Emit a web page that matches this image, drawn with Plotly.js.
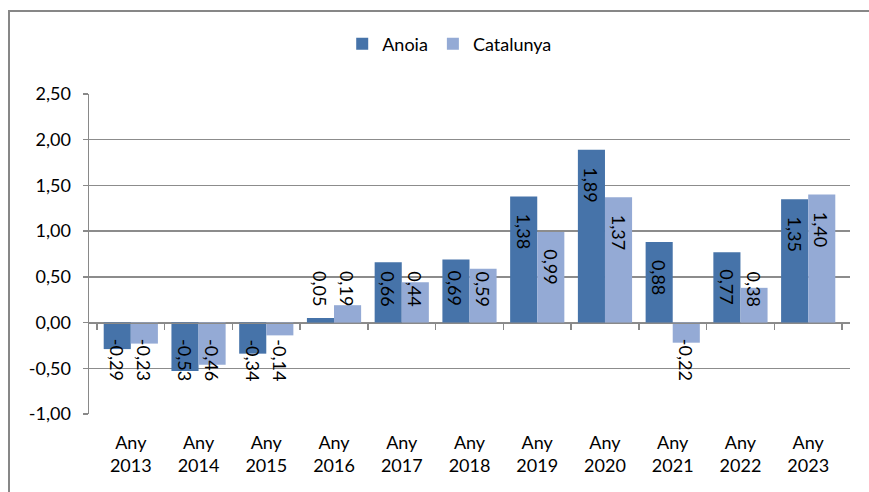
<!DOCTYPE html>
<html>
<head>
<meta charset="utf-8">
<script src="https://cdn.plot.ly/plotly-3.0.1.min.js"></script>
<style>
html,body{margin:0;padding:0;background:#fff;overflow:hidden;width:869px;height:492px;}
#wrap{position:relative;width:869px;height:492px;overflow:hidden;background:#fff;}
#chart{position:absolute;left:0;top:0;width:869px;height:492px;}
#frame{position:absolute;left:8px;top:10px;width:861px;height:482px;border-left:2px solid #878787;border-top:2px solid #878787;box-sizing:border-box;pointer-events:none;z-index:5;}
</style>
</head>
<body>
<div id="wrap"><div id="chart"></div><div id="frame"></div></div>
<script>
const years = ["2013","2014","2015","2016","2017","2018","2019","2020","2021","2022","2023"];
const categories = years.map(y => "Any " + y);
const tickLabels = years.map(y => "Any<br>" + y);
const anoia = [-0.29, -0.53, -0.34, 0.05, 0.66, 0.69, 1.38, 1.89, 0.88, 0.77, 1.35];
const catalunya = [-0.23, -0.46, -0.14, 0.19, 0.44, 0.59, 0.99, 1.37, -0.22, 0.38, 1.40];
const yTicks = [-1, -0.5, 0, 0.5, 1, 1.5, 2, 2.5];

const colA = "#4673A9", colC = "#94AAD5";
const FONT = "Lato, 'Open Sans', sans-serif";
const fmt = v => v.toFixed(2).replace(".", ",");

const traces = [
  {type:"bar", name:"Anoia", x:categories, y:anoia, marker:{color:colA}, hoverinfo:"skip"},
  {type:"bar", name:"Catalunya", x:categories, y:catalunya, marker:{color:colC}, hoverinfo:"skip"},
  {type:"scatter", mode:"markers", x:categories, y:anoia, xaxis:"x2", marker:{opacity:0}, showlegend:false, hoverinfo:"skip"}
];

// data labels (rotated), derived from values
const annotations = [];
[anoia, catalunya].forEach((series, s) => {
  series.forEach((v, i) => {
    let top;
    if (v >= 0) top = Math.max(v - 0.18, 0.575);
    else top = -0.17;
    annotations.push({
      x: i + (s === 0 ? -0.2 : 0.2), y: top, xref:"x", yref:"y",
      text: fmt(v), showarrow:false, textangle:90,
      xanchor:"center", yanchor:"top", borderpad:0,
      font:{family:FONT, size:18, color:"#000"}
    });
  });
});

const layout = {
  width:869, height:492,
  margin:{l:89, r:19, t:94, b:78},
  paper_bgcolor:"rgba(0,0,0,0)", plot_bgcolor:"rgba(0,0,0,0)",
  separators:",.",
  font:{family:FONT, size:18, color:"#000"},
  barmode:"group", bargap:0.2, bargroupgap:0,
  showlegend:true,
  legend:{orientation:"h", x:0.474, xanchor:"center", y:1.156, yanchor:"middle",
          bgcolor:"rgba(0,0,0,0)",
          font:{family:FONT, size:18, color:"#000"}, itemwidth:30, tracegroupgap:0},
  xaxis:{type:"category", tickvals:categories, ticktext:tickLabels, showline:false, showgrid:false,
         zeroline:false, ticks:"", ticklabelstandoff:16, tickfont:{family:FONT, size:18, color:"#000"}},
  xaxis2:{type:"category", overlaying:"x", matches:"x", anchor:"free", position:1/3.5,
          showticklabels:false, showgrid:false, showline:true, linecolor:"#898989", linewidth:1.5,
          ticks:"outside", tickson:"boundaries", ticklen:6, tickcolor:"#898989", tickwidth:1.5},
  yaxis:{range:[-1, 2.5], tickvals:yTicks, ticktext:yTicks.map(fmt), showgrid:true, gridcolor:"#8c8c8c",
         gridwidth:1.5, zeroline:false, showline:true, linecolor:"#898989", linewidth:1.5,
         ticks:"outside", ticklen:5, tickcolor:"#898989", tickwidth:1.5, ticklabelstandoff:8,
         tickfont:{family:FONT, size:18, color:"#000"}},
  annotations: annotations
};

Plotly.newPlot("chart", traces, layout, {displayModeBar:false, staticPlot:true});
</script>
</body>
</html>
